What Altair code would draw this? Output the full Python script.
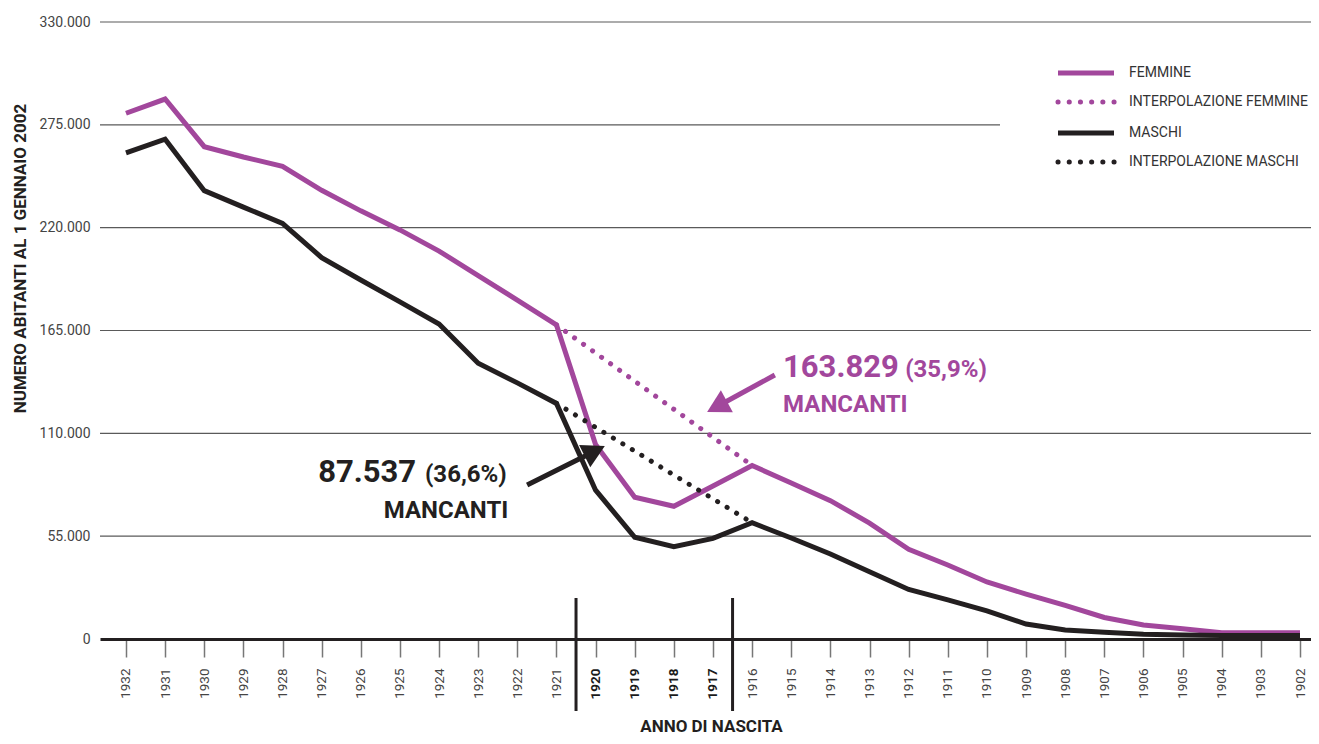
import altair as alt
import pandas as pd

# ---------------- data ----------------
years = [1932, 1931, 1930, 1929, 1928, 1927, 1926, 1925, 1924, 1923, 1922, 1921,
         1920, 1919, 1918, 1917, 1916, 1915, 1914, 1913, 1912, 1911, 1910, 1909,
         1908, 1907, 1906, 1905, 1904, 1903, 1902]
femmine = [281200, 288800, 263300, 257800, 252800, 240000, 229000, 218800, 207500, 194300, 181300, 168000,
           104000, 75800, 71000, 81800, 92800, 83400, 74000, 62000, 48000, 39600, 30500, 24000,
           18000, 11500, 7500, 5500, 3300, 3300, 3300]
maschi = [260000, 267300, 239800, 231000, 222300, 204000, 192000, 180300, 168500, 147500, 137000, 126000,
          79600, 54400, 49400, 53800, 62200, 54000, 45500, 36000, 26500, 20900, 15100, 8000,
          4800, 3600, 2500, 2100, 1900, 1900, 1900]
interp_years = [1921, 1916]
interp_femmine = [168000, 92800]
interp_maschi = [126000, 62200]

y_ticks = [0, 55000, 110000, 165000, 220000, 275000, 330000]
war_bounds = [1920.5, 1916.5]
legend_labels = ["FEMMINE", "INTERPOLAZIONE FEMMINE", "MASCHI", "INTERPOLAZIONE MASCHI"]

# annotations (year, value anchors)
ann_f_texts = ["163.829", "(35,9%)", "MANCANTI"]
ann_f_years = [1915.21, 1912.09, 1915.21]
ann_f_values = [140100, 140100, 121600]
ann_m_texts = ["87.537", "(36,6%)", "MANCANTI"]
ann_m_years = [1927.09, 1924.36, 1922.23]
ann_m_values = [84100, 84100, 64600]
arrow_f_years = [1915.42, 1916.87]
arrow_f_values = [141200, 124600]
arrow_m_years = [1921.75, 1920.05]
arrow_m_values = [82400, 100200]

# ---------------- style ----------------
PURPLE = "#a2479c"
BLACK = "#231f20"
GRID = "#5a5a5a"
FONT = "Roboto"
W, H = 1211, 617

xscale = alt.Scale(domain=[1901.719, 1932.664], reverse=True, nice=False, zero=False)
yscale = alt.Scale(domain=[0, 330000], nice=False, zero=True)

X_AXIS = alt.Axis(
    values=years, format="d", grid=False,
    domain=True, domainColor=BLACK, domainWidth=3,
    ticks=True, tickSize=18, tickColor="#777777", tickWidth=1.5,
    labelAngle=270, labelAlign="right", labelBaseline="middle", labelPadding=11,
    labelFont=FONT, labelFontSize=13.5, labelOverlap=False, labelFlush=False,
    labelColor={"expr": "datum.value >= 1917 && datum.value <= 1920 ? '#1a1a1a' : '#444444'"},
    labelFontWeight={"expr": "datum.value >= 1917 && datum.value <= 1920 ? 'bold' : 'normal'"},
    title="ANNO DI NASCITA", titleFont=FONT, titleFontSize=17, titleFontWeight="bold",
    titleColor=BLACK, titleX=611, titleY=92, titleAlign="center", titleBaseline="alphabetic",
)
Y_AXIS = alt.Axis(
    values=y_ticks, grid=False, domain=False, ticks=False,
    labelFont=FONT, labelFontSize=14, labelColor="#444444", labelPadding=10,
    labelExpr="replace(format(datum.value, ','), ',', '.')",
    title="NUMERO ABITANTI AL 1 GENNAIO 2002", titleFont=FONT, titleFontSize=17,
    titleFontWeight="bold", titleColor=BLACK, titleAngle=270, titleX=-80, titleY=236,
    titleAlign="center", titleBaseline="middle",
)


def ex(field="year"):
    return alt.X(f"{field}:Q", scale=xscale, axis=X_AXIS)


def ey(field="value"):
    return alt.Y(f"{field}:Q", scale=yscale, axis=Y_AXIS)


one = alt.Data(values=[{"k": 1}])

# gridlines
grid_full = pd.DataFrame({"value": [v for v in y_ticks if v not in (0, 275000)]})
grid_short = pd.DataFrame({"value": [275000]})
g1 = alt.Chart(grid_full).mark_rule(color=GRID, strokeWidth=1.2).encode(
    y=ey(), x=alt.value(0), x2=alt.value(W))
g2 = alt.Chart(grid_short).mark_rule(color=GRID, strokeWidth=1.2).encode(
    y=ey(), x=alt.value(0), x2=alt.value(900))

# war period bars
bars = alt.Chart(pd.DataFrame({"year": war_bounds})).mark_rule(color=BLACK, strokeWidth=3).encode(
    x=ex(), y=alt.value(576), y2=alt.value(689))

df_f = pd.DataFrame({"year": years, "value": femmine})
df_m = pd.DataFrame({"year": years, "value": maschi})
df_fi = pd.DataFrame({"year": interp_years, "value": interp_femmine})
df_mi = pd.DataFrame({"year": interp_years, "value": interp_maschi})

line_f = alt.Chart(df_f).mark_line(color=PURPLE, strokeWidth=5).encode(x=ex(), y=ey(), order="year:Q")
line_fi = alt.Chart(df_fi).mark_line(color=PURPLE, strokeWidth=5, strokeDash=[0.1, 11], strokeCap="round").encode(
    x=ex(), y=ey())
line_m = alt.Chart(df_m).mark_line(color=BLACK, strokeWidth=5).encode(x=ex(), y=ey(), order="year:Q")
line_mi = alt.Chart(df_mi).mark_line(color=BLACK, strokeWidth=5, strokeDash=[0.1, 11], strokeCap="round").encode(
    x=ex(), y=ey())

# arrows
HEAD = "M 1 0 L -0.8 -1 L -0.8 1 Z"
df_af = pd.DataFrame({"year": arrow_f_years, "value": arrow_f_values})
df_am = pd.DataFrame({"year": arrow_m_years, "value": arrow_m_values})
shaft_f = alt.Chart(df_af).mark_line(color=PURPLE, strokeWidth=5).encode(x=ex(), y=ey())
shaft_m = alt.Chart(df_am).mark_line(color=BLACK, strokeWidth=5).encode(x=ex(), y=ey())
head_f = alt.Chart(df_af.iloc[[1]]).mark_point(shape=HEAD, size=625, filled=True, opacity=1,
                                                color=PURPLE, angle=151.4, strokeWidth=0).encode(x=ex(), y=ey())
head_m = alt.Chart(df_am.iloc[[1]]).mark_point(shape=HEAD, size=625, filled=True, opacity=1,
                                                color=BLACK, angle=333.4, strokeWidth=0).encode(x=ex(), y=ey())

# annotation texts
ann_sizes = [31, 24, 24]
df_tf = pd.DataFrame({"year": ann_f_years, "value": ann_f_values, "t": ann_f_texts, "fs": ann_sizes})
df_tm = pd.DataFrame({"year": ann_m_years, "value": ann_m_values, "t": ann_m_texts, "fs": ann_sizes})
txt_f = alt.Chart(df_tf).mark_text(align="left", baseline="alphabetic", font=FONT, fontWeight="bold",
                                   color=PURPLE).encode(x=ex(), y=ey(), text="t:N",
                                                        size=alt.Size("fs:Q", scale=None))
txt_m_left = alt.Chart(df_tm.iloc[[0, 1]]).mark_text(align="left", baseline="alphabetic", font=FONT,
                                                     fontWeight="bold", color=BLACK).encode(
    x=ex(), y=ey(), text="t:N", size=alt.Size("fs:Q", scale=None))
txt_m_right = alt.Chart(df_tm.iloc[[2]]).mark_text(align="right", baseline="alphabetic", font=FONT,
                                                   fontWeight="bold", color=BLACK).encode(
    x=ex(), y=ey(), text="t:N", size=alt.Size("fs:Q", scale=None))

# legend (drawn manually)
leg_rows = [51, 80, 111, 140]
leg_colors = [PURPLE, PURPLE, BLACK, BLACK]
leg_dotted = [False, True, False, True]
legend_layers = []
for lab, yy, col, dot in zip(legend_labels, leg_rows, leg_colors, leg_dotted):
    if dot:
        sym = alt.Chart(one).mark_rule(color=col, strokeWidth=5, strokeDash=[0.1, 11.1], strokeCap="round").encode(
            x=alt.value(958), x2=alt.value(1014.5), y=alt.value(yy))
    else:
        sym = alt.Chart(one).mark_rule(color=col, strokeWidth=5).encode(
            x=alt.value(958), x2=alt.value(1014), y=alt.value(yy))
    txt = alt.Chart(one).mark_text(align="left", baseline="middle", font=FONT, fontSize=14,
                                   color="#333333", text=lab).encode(x=alt.value(1029), y=alt.value(yy))
    legend_layers += [sym, txt]

chart = alt.layer(
    g1, g2, bars, line_f, line_fi, line_m, line_mi,
    shaft_f, head_f, shaft_m, head_m, txt_f, txt_m_left, txt_m_right,
    *legend_layers,
).properties(
    width=W, height=H,
    padding={"left": 92, "top": 14, "right": 0, "bottom": 97},
    autosize=alt.AutoSizeParams(type="none"),
).configure_view(stroke="transparent")

chart.save("out.html", embed_options={"renderer": "svg", "actions": False})
